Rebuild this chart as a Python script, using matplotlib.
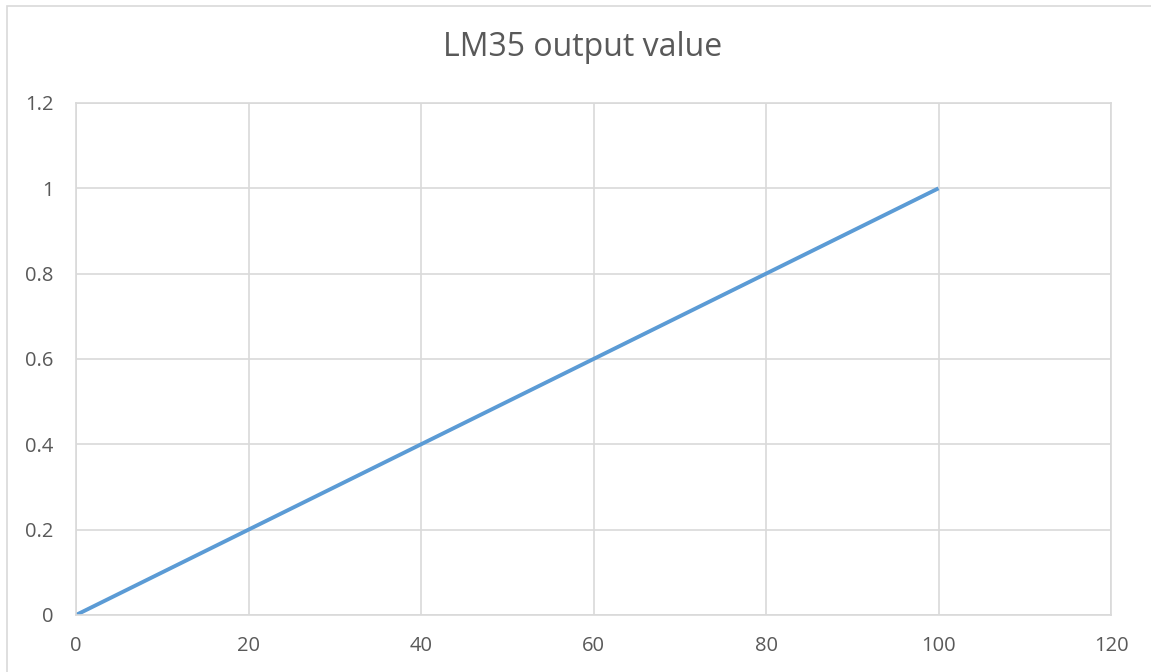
import matplotlib.pyplot as plt
from matplotlib.patches import Rectangle

# temperature (C) vs LM35 output (V)
temp = [0, 20, 40, 60, 80, 100]
volts = [0, 0.2, 0.4, 0.6, 0.8, 1.0]

xticks = [0, 20, 40, 60, 80, 100, 120]
yticks = [0, 0.2, 0.4, 0.6, 0.8, 1, 1.2]
ylabels = ["0", "0.2", "0.4", "0.6", "0.8", "1", "1.2"]

W, H = 1151, 672
plt.rcParams['font.family'] = ['Open Sans', 'DejaVu Sans']

fig = plt.figure(figsize=(W/100, H/100), dpi=100)
ax = fig.add_axes([76/W, 1-615/H, (1111-76)/W, (615-103)/H])

# chart frame
fig.patches.append(Rectangle((6.5/W, -0.1), 1.2, 1-5.5/H+0.1, transform=fig.transFigure,
                             fill=False, edgecolor="#d9d9d9", linewidth=1.2))

ax.plot(temp, volts, color="#5b9bd5", linewidth=2.8, solid_capstyle="butt")

ax.set_xlim(0, 120)
ax.set_ylim(0, 1.2)
ax.set_xticks(xticks)
ax.set_xticklabels([str(t) for t in xticks])
ax.set_yticks(yticks)
ax.set_yticklabels(ylabels)
ax.grid(True, color="#d9d9d9", linewidth=1.2)
ax.set_axisbelow(True)
for s in ax.spines.values():
    s.set_color("#d9d9d9")
    s.set_linewidth(1.2)
ax.tick_params(length=0, labelsize=14.5, labelcolor="#595959")
ax.tick_params(axis="x", pad=15)
ax.tick_params(axis="y", pad=16)

fig.text(583/W, 1-48/H, "LM35 output value", ha="center", va="center",
         fontsize=23, color="#595959")

fig.savefig("out.png", dpi=100)
